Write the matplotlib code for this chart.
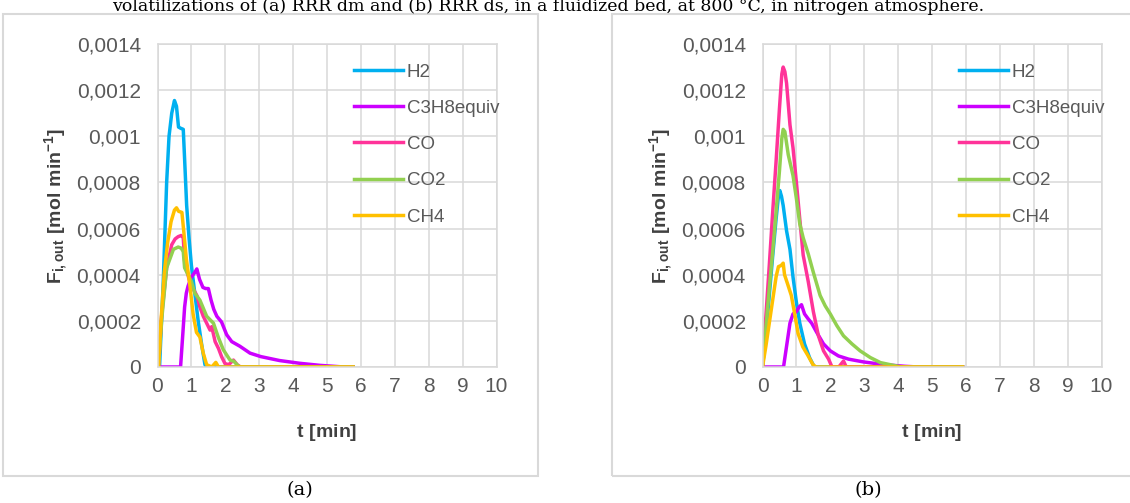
"""
Outlet molar flow of the volatiles released during the devolatilization
runs (a) and (b), as read off the original two-panel Excel figure.
"""

import matplotlib
matplotlib.use("Agg")
import matplotlib.pyplot as plt
from matplotlib.patches import Rectangle
from matplotlib.ticker import FuncFormatter, MultipleLocator

plt.rcParams["font.family"] = ["Liberation Sans", "DejaVu Sans"]
plt.rcParams["mathtext.fontset"] = "custom"
plt.rcParams["mathtext.rm"] = "Liberation Sans"
plt.rcParams["mathtext.bf"] = "Liberation Sans:bold"

W, H = 1130, 503

SPECIES = ["H2", "C3H8equiv", "CO", "CO2", "CH4"]
COLORS = ["#00B0F0", "#CC00FF", "#FF3399", "#92D050", "#FFC000"]

# panel (a): time [min] and flow [1e-4 mol/min]
t_h2_a = [0, 0.06, 0.17, 0.27, 0.34, 0.42, 0.5, 0.56, 0.62, 0.68, 0.76, 0.8,
          0.86, 0.93, 1.0, 1.1, 1.2, 1.3, 1.4, 1.45, 5.77]
h2_a = [0, 0, 3.7, 8.0, 10.0, 11.0, 11.55, 11.3, 10.4, 10.35, 10.3, 9.0,
        7.0, 5.6, 4.4, 3.2, 2.0, 1.0, 0.1, 0, 0]

t_c3h8_a = [0, 0.68, 0.75, 0.8, 0.85, 0.9, 1.0, 1.1, 1.16, 1.24, 1.34, 1.42,
            1.5, 1.58, 1.66, 1.75, 1.89, 2.04, 2.19, 2.43, 2.73, 3.05, 3.6,
            4.2, 4.8, 5.4, 5.77]
c3h8_a = [0, 0, 1.5, 2.6, 3.2, 3.5, 3.9, 4.1, 4.25, 3.8, 3.45, 3.4,
          3.4, 2.9, 2.5, 2.2, 1.95, 1.4, 1.1, 0.9, 0.6, 0.45, 0.28,
          0.16, 0.07, 0.01, 0]

t_co_a = [0, 0.03, 0.12, 0.27, 0.42, 0.52, 0.61, 0.7, 0.76, 0.8, 0.88, 0.95,
          1.05, 1.16, 1.25, 1.35, 1.45, 1.55, 1.6, 1.7, 1.8, 1.89, 1.99,
          2.1, 2.24, 2.35, 2.45, 5.77]
co_a = [0, 0, 2.2, 4.3, 5.3, 5.55, 5.65, 5.7, 5.6, 4.6, 4.1, 3.7,
        3.4, 3.1, 2.6, 2.2, 1.9, 1.6, 1.75, 1.1, 0.8, 0.45, 0.15,
        0.1, 0.3, 0.1, 0, 0]

t_co2_a = [0, 0.03, 0.12, 0.27, 0.47, 0.61, 0.7, 0.76, 0.8, 0.9, 1.0, 1.1,
           1.25, 1.45, 1.55, 1.65, 1.79, 1.94, 2.05, 2.14, 2.25, 2.38, 2.45,
           5.77]
co2_a = [0, 0, 2.0, 4.3, 5.1, 5.2, 5.15, 5.0, 4.3, 4.0, 3.7, 3.2,
         2.9, 2.2, 2.05, 1.9, 1.3, 0.75, 0.5, 0.3, 0.25, 0.05, 0, 0]

t_ch4_a = [0, 0.03, 0.1, 0.2, 0.3, 0.4, 0.5, 0.56, 0.62, 0.72, 0.78, 0.85,
           0.95, 1.05, 1.15, 1.25, 1.35, 1.45, 1.6, 1.72, 1.8, 5.77]
ch4_a = [0, 0, 1.9, 4.1, 5.4, 6.3, 6.8, 6.9, 6.75, 6.7, 5.8, 4.7,
         3.6, 2.3, 1.5, 1.3, 0.6, 0.1, 0, 0.2, 0, 0]

# panel (b)
t_h2_b = [0, 0.1, 0.2, 0.3, 0.4, 0.47, 0.51, 0.56, 0.61, 0.71, 0.81, 0.9,
          1.0, 1.1, 1.24, 1.39, 1.53, 5.9]
h2_b = [0, 1.4, 3.1, 4.8, 6.4, 7.4, 7.65, 7.4, 7.0, 5.9, 5.1, 3.9,
        2.8, 1.9, 1.0, 0.4, 0, 0]

t_c3h8_b = [0, 0.62, 0.7, 0.81, 0.9, 1.0, 1.08, 1.15, 1.24, 1.34, 1.45, 1.6,
            1.8, 2.0, 2.24, 2.54, 2.98, 3.6, 4.2, 4.6, 5.9]
c3h8_b = [0, 0, 0.8, 1.9, 2.3, 2.4, 2.6, 2.7, 2.3, 2.1, 1.9, 1.5,
          1.0, 0.7, 0.48, 0.34, 0.22, 0.1, 0.03, 0, 0]

t_co_b = [0, 0.1, 0.2, 0.3, 0.4, 0.5, 0.57, 0.61, 0.66, 0.71, 0.81, 0.9,
          1.0, 1.1, 1.2, 1.35, 1.5, 1.65, 1.8, 1.95, 2.05, 2.25, 2.39, 2.47,
          5.9]
co_b = [0, 2.2, 4.4, 6.7, 8.9, 11.2, 12.7, 13.0, 12.8, 12.3, 10.5, 9.5,
        8.0, 6.4, 4.85, 3.7, 2.4, 1.35, 0.7, 0.34, 0, 0, 0.26, 0, 0]

t_co2_b = [0, 0.1, 0.2, 0.3, 0.4, 0.5, 0.57, 0.61, 0.66, 0.76, 0.9, 1.0,
           1.1, 1.2, 1.35, 1.5, 1.7, 1.85, 2.0, 2.19, 2.39, 2.64, 2.88, 3.18,
           3.48, 3.77, 4.1, 5.9]
co2_b = [0, 1.7, 3.4, 5.0, 6.7, 8.5, 9.9, 10.3, 10.2, 9.2, 8.3, 7.3,
         6.2, 5.6, 4.9, 4.1, 3.1, 2.65, 2.3, 1.8, 1.35, 1.0, 0.7, 0.41,
         0.19, 0.1, 0, 0]

t_ch4_b = [0, 0.1, 0.2, 0.3, 0.4, 0.47, 0.55, 0.61, 0.65, 0.74, 0.85, 0.95,
           1.05, 1.19, 1.34, 1.49, 1.58, 5.9]
ch4_b = [0, 0.9, 1.9, 2.9, 3.9, 4.35, 4.4, 4.5, 4.0, 3.6, 3.1, 2.3,
         1.45, 0.87, 0.5, 0.1, 0, 0]

CAPTION = ("volatilizations of (a) RRR dm and (b) RRR ds, in a fluidized bed, "
           "at 800 °C, in nitrogen atmosphere.")


def fmt_comma(v, _pos):
    return f"{v:g}".replace(".", ",")


def draw_panel(fig, left_px, series):
    ax = fig.add_axes([left_px / W, (H - 367) / H, 339 / W, 323 / H])
    for (t, v), name, color in zip(series, SPECIES, COLORS):
        ax.plot(t, [y * 1e-4 for y in v], color=color, lw=2.5, label=name,
                solid_joinstyle="round")
    ax.set_xlim(0, 10)
    ax.set_ylim(0, 0.0014)
    ax.xaxis.set_major_locator(MultipleLocator(1))
    ax.yaxis.set_major_locator(MultipleLocator(0.0002))
    ax.yaxis.set_major_formatter(FuncFormatter(fmt_comma))
    ax.grid(True, color="#D9D9D9", lw=1.1)
    ax.set_axisbelow(True)
    for sp in ax.spines.values():
        sp.set_color("#D9D9D9")
        sp.set_linewidth(1.1)
    ax.tick_params(length=0, labelsize=15, colors="#595959")
    ax.tick_params(axis="y", pad=12)
    ax.tick_params(axis="x", pad=7)
    ax.set_xlabel(r"$\mathbf{t\ [min]}$", fontsize=14, color="#404040")
    ax.xaxis.set_label_coords(0.5, -0.17)
    ax.set_ylabel(r"$\mathbf{F_{i,out}\ [mol\ min^{-1}]}$", fontsize=14,
                  color="#404040")
    ax.yaxis.set_label_coords(-0.258, 0.5)
    leg = ax.legend(loc="upper left", bbox_to_anchor=(0.58, 0.94),
                    frameon=False, handlelength=2.6, handletextpad=0.2,
                    labelspacing=1.02, fontsize=13.5, borderaxespad=0,
                    borderpad=0)
    for txt in leg.get_texts():
        txt.set_color("#595959")
    return ax


def main():
    fig = plt.figure(figsize=(W / 100, H / 100), dpi=100)

    # chart-area borders
    for x0, x1 in [(3, 538), (612, 1140)]:
        fig.add_artist(Rectangle((x0 / W, (H - 476) / H), (x1 - x0) / W,
                                 462 / H, transform=fig.transFigure,
                                 fill=False, ec="#D9D9D9", lw=1.5))

    draw_panel(fig, 157.5, [(t_h2_a, h2_a), (t_c3h8_a, c3h8_a),
                            (t_co_a, co_a), (t_co2_a, co2_a),
                            (t_ch4_a, ch4_a)])
    draw_panel(fig, 762.5, [(t_h2_b, h2_b), (t_c3h8_b, c3h8_b),
                            (t_co_b, co_b), (t_co2_b, co2_b),
                            (t_ch4_b, ch4_b)])

    serif = ["DejaVu Serif", "Liberation Serif"]
    fig.text(112 / W, 1 - 11 / H, CAPTION, family=serif, fontsize=12.5,
             va="baseline", ha="left")
    fig.text(300 / W, 1 - 490 / H, "(a)", family=serif, fontsize=14,
             ha="center", va="center")
    fig.text(868 / W, 1 - 490 / H, "(b)", family=serif, fontsize=14,
             ha="center", va="center")

    fig.savefig("out.png", dpi=100)


if __name__ == "__main__":
    main()
